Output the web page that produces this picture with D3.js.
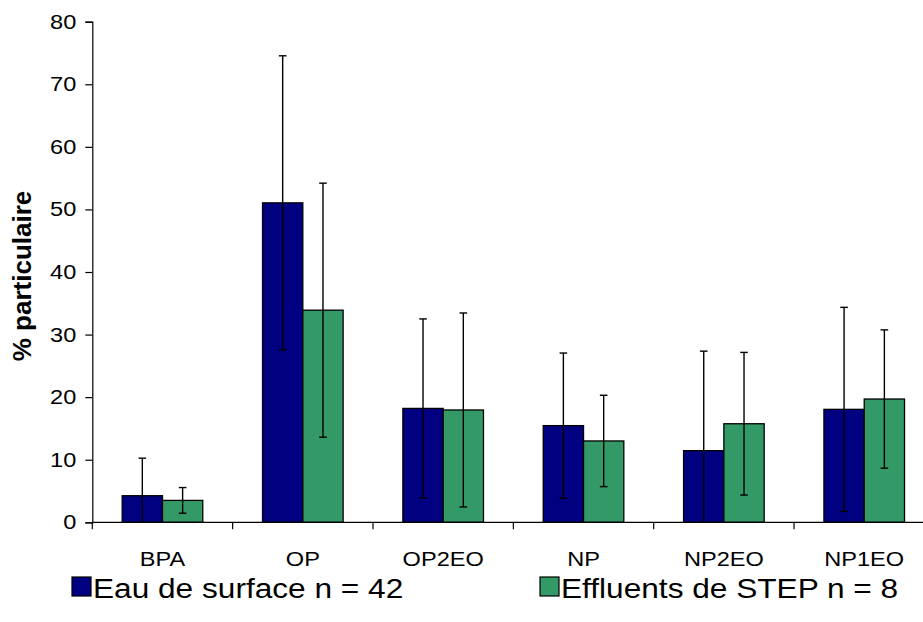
<!DOCTYPE html>
<html>
<head>
<meta charset="utf-8">
<script src="https://cdn.jsdelivr.net/npm/d3@7/dist/d3.min.js"></script>
<style>
  html, body { margin: 0; padding: 0; background: #fff; }
  svg { display: block; font-family: "Liberation Sans", Arial, sans-serif; }
</style>
</head>
<body>
<svg id="chart" width="923" height="622"></svg>
<script>
// Share of each compound in the particulate phase (mean ± standard deviation)
const categories = ["BPA", "OP", "OP2EO", "NP", "NP2EO", "NP1EO"];
const seriesNames = ["Eau de surface n = 42", "Effluents de STEP n = 8"];
const surfaceMean = [4.25, 51.05, 18.2, 15.45, 11.45, 18.05];
const surfaceSd   = [6.0, 23.5, 14.3, 11.6, 15.9, 16.3];
const stepMean    = [3.5, 33.9, 17.95, 13.0, 15.75, 19.7];
const stepSd      = [2.05, 20.3, 15.5, 7.3, 11.4, 11.05];
const yTicks = [0, 10, 20, 30, 40, 50, 60, 70, 80];
const colors = ["#000080", "#339966"];

const svg = d3.select("#chart");
const plot = { left: 92.3, top: 21.7, bottom: 522.3, bandWidth: 140.35 };
const barWidth = 40.3;
const fontFamily = "'Liberation Sans', Arial, sans-serif";
const stretch = 1.15; // horizontal text widening

const x = d3.scaleBand()
  .domain(categories)
  .range([plot.left, plot.left + plot.bandWidth * categories.length])
  .paddingInner(0).paddingOuter(0);

const y = d3.scaleLinear().domain([0, 80]).range([plot.bottom, plot.top]);

const series = [
  { name: seriesNames[0], mean: surfaceMean, sd: surfaceSd, color: colors[0], offset: -1 },
  { name: seriesNames[1], mean: stepMean, sd: stepSd, color: colors[1], offset: 0 }
];

// Bars
series.forEach(s => {
  svg.append("g").selectAll("rect")
    .data(categories)
    .join("rect")
    .attr("x", (c) => x(c) + x.bandwidth() / 2 + s.offset * barWidth)
    .attr("y", (c, i) => y(s.mean[i]))
    .attr("width", barWidth)
    .attr("height", (c, i) => y(0) - y(s.mean[i]))
    .attr("fill", s.color)
    .attr("stroke", "#000")
    .attr("stroke-width", 1.3);
});

// Error bars (clipped to the axis floor)
const capHalf = 3.8;
series.forEach(s => {
  const g = svg.append("g").attr("stroke", "#000").attr("stroke-width", 1.4);
  categories.forEach((c, i) => {
    const cx = x(c) + x.bandwidth() / 2 + s.offset * barWidth + barWidth / 2;
    const hi = s.mean[i] + s.sd[i];
    const lo = s.mean[i] - s.sd[i];
    const loClamped = Math.max(0, lo);
    g.append("line").attr("x1", cx).attr("x2", cx)
      .attr("y1", y(hi)).attr("y2", y(loClamped));
    g.append("line").attr("x1", cx - capHalf).attr("x2", cx + capHalf)
      .attr("y1", y(hi)).attr("y2", y(hi));
    if (lo >= 0) {
      g.append("line").attr("x1", cx - capHalf).attr("x2", cx + capHalf)
        .attr("y1", y(lo)).attr("y2", y(lo));
    }
  });
});

// Y axis
const yAxis = d3.axisLeft(y).tickValues(yTicks).tickSize(7).tickPadding(9);
const gy = svg.append("g").attr("transform", `translate(${plot.left},0)`).call(yAxis);
gy.attr("font-family", fontFamily).attr("font-size", 20.5);
gy.select(".domain").attr("stroke", "#000").attr("stroke-width", 1.2);
gy.selectAll(".tick line").attr("stroke", "#000").attr("stroke-width", 1.2);
gy.selectAll(".tick text")
  .attr("font-size", 20.5)
  .attr("fill", "#000")
  .attr("x", -16 / stretch)
  .attr("transform", `scale(${stretch},1)`);

// X axis: line along the floor, tick marks between categories
const gx = svg.append("g");
gx.append("line")
  .attr("x1", plot.left).attr("x2", x.range()[1])
  .attr("y1", y(0)).attr("y2", y(0))
  .attr("stroke", "#000").attr("stroke-width", 1.2);
const boundaries = categories.map(c => x(c)).concat([x.range()[1]]);
gx.selectAll("line.tk").data(boundaries).join("line").attr("class", "tk")
  .attr("x1", d => d).attr("x2", d => d)
  .attr("y1", y(0)).attr("y2", y(0) + 7)
  .attr("stroke", "#000").attr("stroke-width", 1.2);
gx.selectAll("text").data(categories).join("text")
  .attr("transform", c => `translate(${x(c) + x.bandwidth() / 2},${y(0) + 44}) scale(${stretch},1)`)
  .attr("text-anchor", "middle")
  .attr("font-size", 20.5)
  .attr("fill", "#000")
  .text(c => c);

// Y axis title
svg.append("text")
  .attr("transform", `translate(31,276) rotate(-90)`)
  .attr("text-anchor", "middle")
  .attr("font-size", 26)
  .attr("font-weight", "bold")
  .attr("fill", "#000")
  .text("% particulaire");

// Legend
const legendItems = [
  { name: seriesNames[0], color: colors[0], x: 72 },
  { name: seriesNames[1], color: colors[1], x: 540 }
];
const lg = svg.append("g");
legendItems.forEach(it => {
  lg.append("rect")
    .attr("x", it.x).attr("y", 577).attr("width", 19).attr("height", 19)
    .attr("fill", it.color).attr("stroke", "#000").attr("stroke-width", 1.2);
  lg.append("text")
    .attr("transform", `translate(${it.x + 21},598) scale(${stretch},1)`)
    .attr("font-size", 27.5)
    .attr("fill", "#000")
    .text(it.name);
});
</script>
</body>
</html>
